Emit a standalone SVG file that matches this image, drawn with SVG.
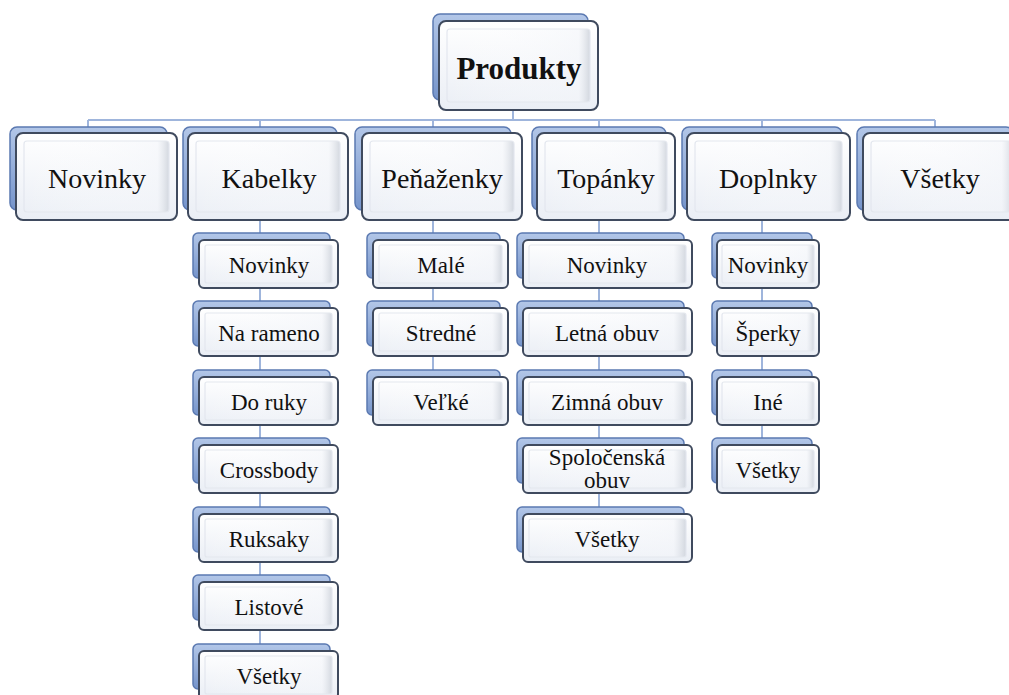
<svg xmlns="http://www.w3.org/2000/svg" width="1009" height="695" viewBox="0 0 1009 695">
<defs>
<linearGradient id="gBack" x1="0" y1="0" x2="0" y2="1">
<stop offset="0" stop-color="#b3c7e8"/>
<stop offset="1" stop-color="#7594cb"/>
</linearGradient>
<linearGradient id="gFront" x1="0" y1="0" x2="0" y2="1">
<stop offset="0" stop-color="#ffffff"/>
<stop offset="1" stop-color="#eaeef5"/>
</linearGradient>
<linearGradient id="gBevel" x1="0" y1="0" x2="1" y2="0">
<stop offset="0" stop-color="#ffffff" stop-opacity="0"/>
<stop offset="0.92" stop-color="#f4f6fa" stop-opacity="0.6"/>
<stop offset="1" stop-color="#cfd4dc" stop-opacity="0.9"/>
</linearGradient>
<style>
.back{fill:url(#gBack);stroke:#5b79b1;stroke-width:1.5}
.front{fill:url(#gFront);stroke:#3f4a5e;stroke-width:2}
.bevel{fill:url(#gBevel);stroke:#e3e7ee;stroke-width:1.2}
.conn{stroke:#9fb5dc;stroke-width:2;fill:none}
text{font-family:"Liberation Serif","Times New Roman",serif;fill:#111;text-anchor:middle}
.t1{font-size:31px;font-weight:bold}
.t2{font-size:28px}
.t3{font-size:23px}
</style>
</defs>
<rect width="1009" height="695" fill="#ffffff"/>
<g id="connectors">
<path class="conn" d="M513 100V120M88 120H935M88 120V127M260 120V127M433 120V127M599 120V127M762 120V127M935 120V127"/>
<path class="conn" d="M260 210V644M433 210V370M599 210V507M762 210V438"/>
</g>
<g id="produkty">
<rect class="back" x="433" y="14" width="155" height="86" rx="7"/>
<rect class="front" x="439" y="21" width="159" height="89" rx="7"/>
<rect class="bevel" x="447" y="29" width="143" height="73" rx="3"/>
<text class="t1" x="519" y="79">Produkty</text>
</g>
<g id="novinky">
<rect class="back" x="10" y="127" width="157" height="83" rx="7"/>
<rect class="front" x="16" y="133" width="161" height="87" rx="7"/>
<rect class="bevel" x="24" y="141" width="145" height="71" rx="3"/>
<text class="t2" x="97" y="188">Novinky</text>
</g>
<g id="kabelky">
<rect class="back" x="183" y="127" width="154" height="83" rx="7"/>
<rect class="front" x="188" y="133" width="160" height="87" rx="7"/>
<rect class="bevel" x="196" y="141" width="144" height="71" rx="3"/>
<text class="t2" x="269" y="188">Kabelky</text>
</g>
<g id="penazenky">
<rect class="back" x="355" y="127" width="156" height="83" rx="7"/>
<rect class="front" x="362" y="133" width="160" height="87" rx="7"/>
<rect class="bevel" x="370" y="141" width="144" height="71" rx="3"/>
<text class="t2" x="442" y="188">Peňaženky</text>
</g>
<g id="topanky">
<rect class="back" x="532" y="127" width="134" height="83" rx="7"/>
<rect class="front" x="537" y="133" width="138" height="87" rx="7"/>
<rect class="bevel" x="545" y="141" width="122" height="71" rx="3"/>
<text class="t2" x="606" y="188">Topánky</text>
</g>
<g id="doplnky">
<rect class="back" x="682" y="127" width="160" height="83" rx="7"/>
<rect class="front" x="687" y="133" width="163" height="87" rx="7"/>
<rect class="bevel" x="695" y="141" width="147" height="71" rx="3"/>
<text class="t2" x="768" y="188">Doplnky</text>
</g>
<g id="vsetky">
<rect class="back" x="857" y="127" width="156" height="83" rx="7"/>
<rect class="front" x="863" y="133" width="158" height="87" rx="7"/>
<rect class="bevel" x="871" y="141" width="142" height="71" rx="3"/>
<text class="t2" x="940" y="188">Všetky</text>
</g>
<!-- Kabelky children -->
<g id="kab-novinky"><rect class="back" x="193" y="233" width="137" height="45" rx="5"/><rect class="front" x="199" y="240" width="139" height="48" rx="5"/><rect class="bevel" x="205" y="245" width="127" height="38" rx="2"/><text class="t3" x="269" y="273">Novinky</text></g>
<g id="kab-narameno"><rect class="back" x="193" y="301" width="137" height="45" rx="5"/><rect class="front" x="199" y="308" width="139" height="48" rx="5"/><rect class="bevel" x="205" y="313" width="127" height="38" rx="2"/><text class="t3" x="269" y="341">Na rameno</text></g>
<g id="kab-doruky"><rect class="back" x="193" y="370" width="137" height="45" rx="5"/><rect class="front" x="199" y="377" width="139" height="48" rx="5"/><rect class="bevel" x="205" y="382" width="127" height="38" rx="2"/><text class="t3" x="269" y="410">Do ruky</text></g>
<g id="kab-crossbody"><rect class="back" x="193" y="438" width="137" height="45" rx="5"/><rect class="front" x="199" y="445" width="139" height="48" rx="5"/><rect class="bevel" x="205" y="450" width="127" height="38" rx="2"/><text class="t3" x="269" y="478">Crossbody</text></g>
<g id="kab-ruksaky"><rect class="back" x="193" y="507" width="137" height="45" rx="5"/><rect class="front" x="199" y="514" width="139" height="48" rx="5"/><rect class="bevel" x="205" y="519" width="127" height="38" rx="2"/><text class="t3" x="269" y="547">Ruksaky</text></g>
<g id="kab-listove"><rect class="back" x="193" y="575" width="137" height="45" rx="5"/><rect class="front" x="199" y="582" width="139" height="48" rx="5"/><rect class="bevel" x="205" y="587" width="127" height="38" rx="2"/><text class="t3" x="269" y="615">Listové</text></g>
<g id="kab-vsetky"><rect class="back" x="193" y="644" width="137" height="45" rx="5"/><rect class="front" x="199" y="651" width="139" height="48" rx="5"/><rect class="bevel" x="205" y="656" width="127" height="38" rx="2"/><text class="t3" x="269" y="684">Všetky</text></g>
<!-- Penazenky children -->
<g id="pen-male"><rect class="back" x="367" y="233" width="133" height="45" rx="5"/><rect class="front" x="373" y="240" width="135" height="48" rx="5"/><rect class="bevel" x="379" y="245" width="123" height="38" rx="2"/><text class="t3" x="441" y="273">Malé</text></g>
<g id="pen-stredne"><rect class="back" x="367" y="301" width="133" height="45" rx="5"/><rect class="front" x="373" y="308" width="135" height="48" rx="5"/><rect class="bevel" x="379" y="313" width="123" height="38" rx="2"/><text class="t3" x="441" y="341">Stredné</text></g>
<g id="pen-velke"><rect class="back" x="367" y="370" width="133" height="45" rx="5"/><rect class="front" x="373" y="377" width="135" height="48" rx="5"/><rect class="bevel" x="379" y="382" width="123" height="38" rx="2"/><text class="t3" x="441" y="410">Veľké</text></g>
<!-- Topanky children -->
<g id="top-novinky"><rect class="back" x="517" y="233" width="167" height="45" rx="5"/><rect class="front" x="523" y="240" width="169" height="48" rx="5"/><rect class="bevel" x="529" y="245" width="157" height="38" rx="2"/><text class="t3" x="607" y="273">Novinky</text></g>
<g id="top-letna"><rect class="back" x="517" y="301" width="167" height="45" rx="5"/><rect class="front" x="523" y="308" width="169" height="48" rx="5"/><rect class="bevel" x="529" y="313" width="157" height="38" rx="2"/><text class="t3" x="607" y="341">Letná obuv</text></g>
<g id="top-zimna"><rect class="back" x="517" y="370" width="167" height="45" rx="5"/><rect class="front" x="523" y="377" width="169" height="48" rx="5"/><rect class="bevel" x="529" y="382" width="157" height="38" rx="2"/><text class="t3" x="607" y="410">Zimná obuv</text></g>
<g id="top-spolocenska"><rect class="back" x="517" y="438" width="167" height="45" rx="5"/><rect class="front" x="523" y="445" width="169" height="48" rx="5"/><rect class="bevel" x="529" y="450" width="157" height="38" rx="2"/><text class="t3" x="607" y="465">Spoločenská</text><text class="t3" x="607" y="488">obuv</text></g>
<g id="top-vsetky"><rect class="back" x="517" y="507" width="167" height="45" rx="5"/><rect class="front" x="523" y="514" width="169" height="48" rx="5"/><rect class="bevel" x="529" y="519" width="157" height="38" rx="2"/><text class="t3" x="607" y="547">Všetky</text></g>
<!-- Doplnky children -->
<g id="dop-novinky"><rect class="back" x="712" y="233" width="100" height="45" rx="5"/><rect class="front" x="717" y="240" width="102" height="48" rx="5"/><rect class="bevel" x="722" y="245" width="92" height="38" rx="2"/><text class="t3" x="768" y="273">Novinky</text></g>
<g id="dop-sperky"><rect class="back" x="712" y="301" width="100" height="45" rx="5"/><rect class="front" x="717" y="308" width="102" height="48" rx="5"/><rect class="bevel" x="722" y="313" width="92" height="38" rx="2"/><text class="t3" x="768" y="341">Šperky</text></g>
<g id="dop-ine"><rect class="back" x="712" y="370" width="100" height="45" rx="5"/><rect class="front" x="717" y="377" width="102" height="48" rx="5"/><rect class="bevel" x="722" y="382" width="92" height="38" rx="2"/><text class="t3" x="768" y="410">Iné</text></g>
<g id="dop-vsetky"><rect class="back" x="712" y="438" width="100" height="45" rx="5"/><rect class="front" x="717" y="445" width="102" height="48" rx="5"/><rect class="bevel" x="722" y="450" width="92" height="38" rx="2"/><text class="t3" x="768" y="478">Všetky</text></g>
</svg>
